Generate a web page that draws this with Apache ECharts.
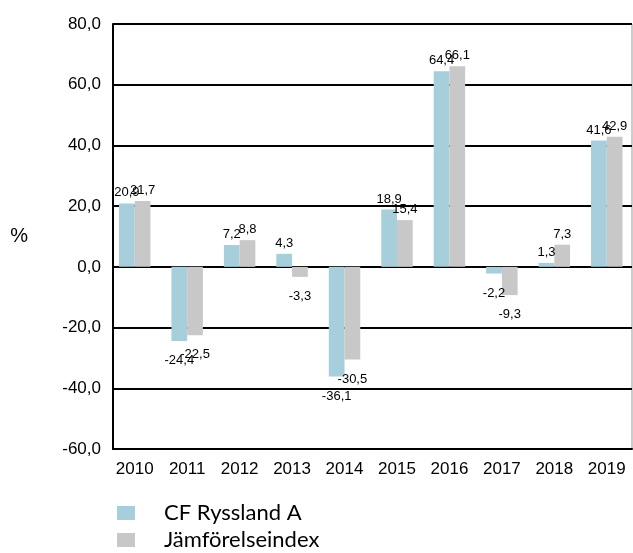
<!DOCTYPE html>
<html><head><meta charset="utf-8">
<script src="https://cdn.jsdelivr.net/npm/echarts@6/dist/echarts.min.js"></script>
<style>html,body{margin:0;padding:0;background:#fff}#c{width:633px;height:553px}</style>
</head><body><div id="c"></div>
<script>
const categories = ['2010','2011','2012','2013','2014','2015','2016','2017','2018','2019'];
const fundName = 'CF Ryssland A';
const indexName = 'Jämförelseindex';
const fundValues = [20.9, -24.4, 7.2, 4.3, -36.1, 18.9, 64.4, -2.2, 1.3, 41.6];
const indexValues = [21.7, -22.5, 8.8, -3.3, -30.5, 15.4, 66.1, -9.3, 7.3, 42.9];
const yMin = -60, yMax = 80, yStep = 20;

const fmt = v => v.toFixed(1).replace('.', ',');
function labeled(vals){
  return vals.map(v => ({value: v, label: v >= 0 ? {position: 'top', distance: 4} : {position: 'bottom', distance: 13}}));
}
const labelStyle = {show: true, fontFamily: 'Liberation Sans', fontSize: 13, color: '#000', formatter: p => fmt(p.value)};
function legendFor(name, top){
  return {
    left: 117, top: top, itemWidth: 18, itemHeight: 14, padding: 0, icon: 'rect',
    textStyle: {fontFamily: 'Lato', fontSize: 22, color: '#000', padding: [0,0,0,24]},
    data: [name]
  };
}
const chart = echarts.init(document.getElementById('c'));
chart.setOption({
  animation: false,
  grid: [
    {left: 113, right: 1, top: 24, bottom: 104, show: true, borderColor: '#999', borderWidth: 1},
    {left: 108.5, right: -8, top: 24, bottom: 104}
  ],
  legend: [legendFor(fundName, 502), legendFor(indexName, 529)],
  xAxis: [
    {type: 'category', gridIndex: 0, data: categories,
     axisLine: {onZero: false, lineStyle: {color: '#000', width: 2}},
     axisTick: {show: false}, axisLabel: {show: false}},
    {type: 'category', gridIndex: 1, data: categories,
     axisLine: {show: false}, axisTick: {show: false},
     axisLabel: {fontFamily: 'Liberation Sans', fontSize: 17, color: '#000', margin: 12}}
  ],
  yAxis: [
    {type: 'value', gridIndex: 0, min: yMin, max: yMax, interval: yStep,
     name: '%', nameLocation: 'middle', nameRotate: 0, nameGap: 85,
     nameTextStyle: {fontFamily: 'Liberation Sans', fontSize: 20, color: '#000'},
     axisLine: {show: true, lineStyle: {color: '#000', width: 2}},
     axisTick: {show: false},
     splitLine: {lineStyle: {color: '#000', width: 2}},
     axisLabel: {fontFamily: 'Liberation Sans', fontSize: 17, color: '#000', margin: 12, formatter: v => fmt(v)}},
    {type: 'value', gridIndex: 1, min: yMin, max: yMax, interval: yStep,
     axisLine: {show: false}, axisTick: {show: false}, axisLabel: {show: false}, splitLine: {show: false}}
  ],
  series: [
    {name: fundName, type: 'bar', xAxisIndex: 1, yAxisIndex: 1, data: labeled(fundValues), barWidth: '30%', barGap: '0%',
     itemStyle: {color: '#a6cedb'}, label: labelStyle},
    {name: indexName, type: 'bar', xAxisIndex: 1, yAxisIndex: 1, data: labeled(indexValues), barWidth: '30%', barGap: '0%',
     itemStyle: {color: '#c8c8c8'}, label: labelStyle}
  ]
});
</script></body></html>
